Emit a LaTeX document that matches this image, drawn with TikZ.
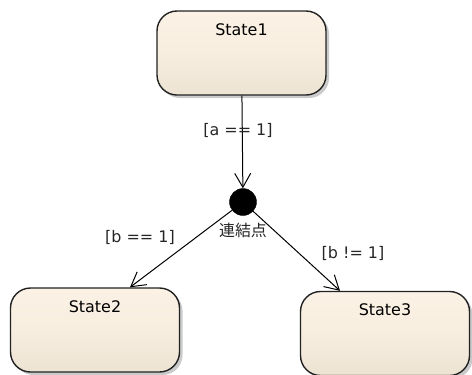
\documentclass[tikz,border=0pt]{standalone}
\usepackage{fontspec}
\setmainfont{DejaVu Sans}
\newfontfamily\jpfont{Noto Sans CJK JP}
\usetikzlibrary{arrows.meta,positioning,shadows}
\definecolor{stTop}{HTML}{FBF2E5}
\definecolor{stBot}{HTML}{EDE3D3}
\definecolor{stLine}{HTML}{222222}
\tikzset{%
  % states
  state/.style={draw=stLine, line width=1.4bp, rounded corners=20bp,
    top color=stTop, bottom color=stBot, middle color=stTop!70!stBot,
    minimum width=169bp, minimum height=84bp, inner ysep=0pt,
    text height=24bp, text depth=60bp,
    drop shadow={shadow xshift=3bp, shadow yshift=-3bp, opacity=0.35, fill=black!60}},
  junction/.style={circle, fill=black, draw=black, minimum size=27bp, inner sep=0pt},
  % transitions
  trans/.style={-{Straight Barb[length=14bp, width=16bp]}, line width=1bp, draw=black},
  guard/.style={inner sep=1bp, text=black!85},
}
\begin{document}
\begin{tikzpicture}[x=1bp, y=-1bp, font=\fontsize{16}{19}\selectfont]
  \useasboundingbox (0,0) rectangle (472,374);

  % States
  \node[state] (s1) at (241.5,53) {State1};
  \node[junction] (jn) at (243,202) {};
  \node[state] (s2) at (95,330) {State2};
  \node[state] (s3) at (385,333.5) {State3};
  \node[below=6bp of jn, guard] (jnname) {\jpfont 連結点};

  % Transitions
  \draw[trans] (s1) -- (jn);
  \draw[trans] (jn) -- ([xshift=35bp]s2.north);
  \draw[trans] (jn) -- ([xshift=-45bp]s3.north);

  % Guards
  \node[guard] (ga) at (238,130) {[a == 1]};
  \node[guard] (gb) at (140,237) {[b == 1]};
  \node[guard] (gc) at (353,253) {[b != 1]};
\end{tikzpicture}
\end{document}
